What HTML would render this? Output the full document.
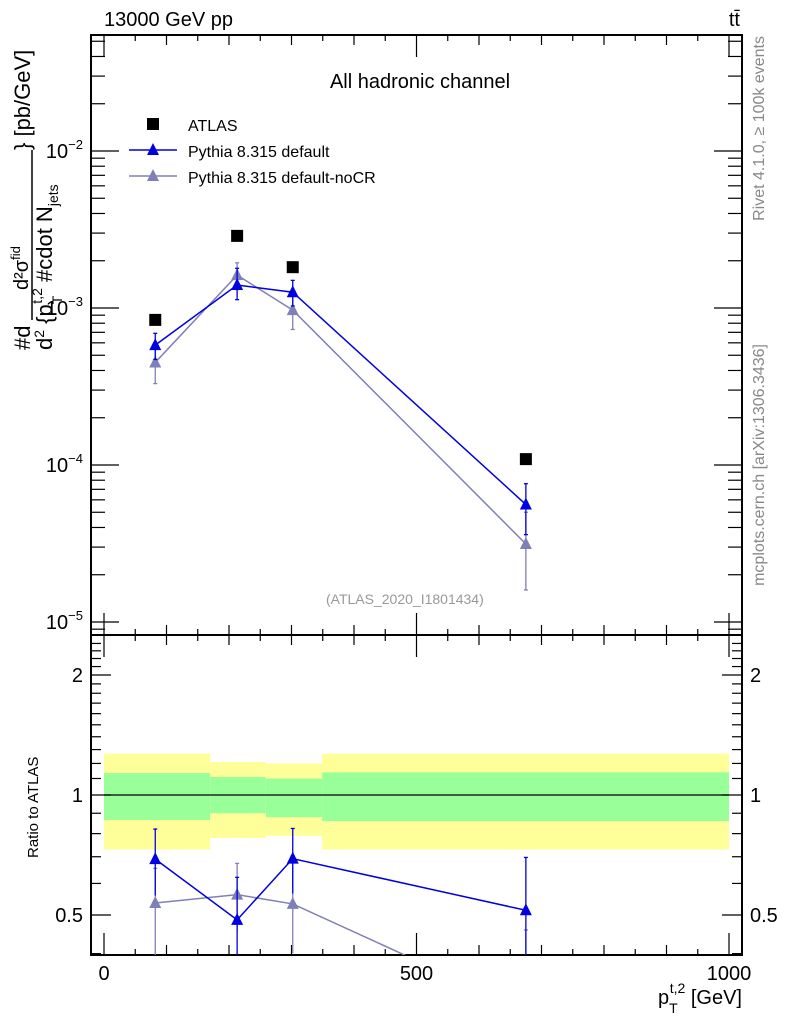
<!DOCTYPE html>
<html><head><meta charset="utf-8"><style>
html,body{margin:0;padding:0;background:#fff;overflow:hidden;width:786px;height:1024px;}
svg{display:block;font-family:"Liberation Sans",Arial,sans-serif;}
</style></head><body>
<svg id="c" width="786" height="1024" viewBox="0 0 786 1024" xmlns="http://www.w3.org/2000/svg">
<text x="104" y="26" font-size="20">13000 GeV pp</text>
<text x="740" y="26" font-size="20" text-anchor="end">tt̄</text>
<text x="420" y="88" font-size="20" text-anchor="middle">All hadronic channel</text>
<text x="326" y="604" font-size="14" fill="#999">(ATLAS_2020_I1801434)</text>
<text transform="translate(764,36) rotate(-90)" font-size="16" fill="#888" text-anchor="end">Rivet 4.1.0, ≥ 100k events</text>
<text transform="translate(764,344) rotate(-90)" font-size="16" fill="#888" text-anchor="end">mcplots.cern.ch [arXiv:1306.3436]</text>
<g font-size="22">
<text transform="translate(30,350) rotate(-90)">#d</text>
<text transform="translate(28,290) rotate(-90)" font-size="20">d²σ<tspan dy="-8" font-size="13">fid</tspan></text>
<text transform="translate(52,350) rotate(-90)">d<tspan dy="-8" font-size="14">2</tspan><tspan dy="8"> {p</tspan><tspan dy="10" font-size="14">T</tspan><tspan dx="-8" dy="-20" font-size="14">t,2</tspan><tspan dy="10"> #cdot N</tspan><tspan dy="6" font-size="14">jets</tspan></text>
<text transform="translate(30,150) rotate(-90)">} [pb/GeV]</text>
<line x1="32" y1="150" x2="32" y2="320" stroke="#000" stroke-width="1.5"/>
</g>
<text transform="translate(38,858) rotate(-90)" font-size="15">Ratio to ATLAS</text>
<text x="742" y="1004" font-size="20" text-anchor="end">p<tspan dy="9" font-size="14">T</tspan><tspan dx="-8" dy="-20" font-size="14">t,2</tspan><tspan dy="11"> [GeV]</tspan></text>
</svg>
<script>
const binEdges=[0,170,259,349,1000];
const xPoints=[82,213,302,675];
const atlas=[8.4e-4,2.88e-3,1.82e-3,1.09e-4];
const defVals=[5.8e-4,1.40e-3,1.26e-3,5.6e-5];
const defUp=[6.9e-4,1.79e-3,1.50e-3,7.6e-5];
const defDn=[4.7e-4,1.13e-3,1.03e-3,3.6e-5];
const nocrVals=[4.5e-4,1.62e-3,9.7e-4,3.14e-5];
const nocrUp=[5.5e-4,1.94e-3,1.28e-3,5.0e-5];
const nocrDn=[3.3e-4,1.31e-3,7.3e-4,1.6e-5];
const greenUp=[1.135,1.11,1.10,1.14];
const greenDn=[0.866,0.90,0.88,0.86];
const yellowUp=[1.27,1.21,1.20,1.27];
const yellowDn=[0.73,0.78,0.79,0.73];
const ratioTicks=[0.5,1,2];
const xTicks=[0,500,1000];

const NS="http://www.w3.org/2000/svg";
const svg=document.getElementById('c');
const L=91,R=742,T=35,M=635,B=955;
function X(v){return 104+0.625*v;}
function Y(v){return 151-157*(Math.log10(v)+2);}
function RY(v){return 795-398.6*Math.log10(v);}
function mk(tag,a,parent){const e=document.createElementNS(NS,tag);for(const k in a)e.setAttribute(k,a[k]);(parent||svg).appendChild(e);return e;}

const bands=mk('g',{});


for(let i=0;i<4;i++){
 const x1=X(binEdges[i]),x2=X(binEdges[i+1]);
 const y=mk('rect',{x:x1,y:RY(yellowUp[i]),width:x2-x1,height:RY(yellowDn[i])-RY(yellowUp[i]),fill:'#ffff99'},bands);
 
 
 const g=mk('rect',{x:x1,y:RY(greenUp[i]),width:x2-x1,height:RY(greenDn[i])-RY(greenUp[i]),fill:'#99ff99'},bands);
 
 
}
mk('line',{x1:X(0),x2:X(1000),y1:RY(1),y2:RY(1),stroke:'#000','stroke-width':1.2});

const fr=mk('g',{fill:'none',stroke:'#000','stroke-width':2});


mk('rect',{x:L,y:T,width:R-L,height:M-T},fr);
mk('rect',{x:L,y:M,width:R-L,height:B-M},fr);

const tk=mk('g',{stroke:'#000','stroke-width':1.2});
for(let v=0;v<=1000;v+=100){
 const big=v%500===0, len=big?22:10;
 for(const [y0,d] of [[T,1],[M,-1],[M,1],[B,-1]]){
  mk('line',{x1:X(v),x2:X(v),y1:y0,y2:y0+d*len},tk);
 }
}
for(let v=50;v<1000;v+=100){for(const [y0,d] of [[T,1],[M,-1],[M,1],[B,-1]])mk('line',{x1:X(v),x2:X(v),y1:y0,y2:y0+d*6},tk);}
xTicks.forEach(v=>{const t=mk('text',{x:X(v),y:980,'font-size':20,'text-anchor':'middle'});t.textContent=v;

});
for(let e=-6;e<=-1;e++)for(let m=1;m<10;m++){
 const v=m*Math.pow(10,e),y=Y(v); if(y<T||y>M)continue;
 const len=m===1?28:14;
 mk('line',{x1:L,x2:L+len,y1:y,y2:y},tk);mk('line',{x1:R,x2:R-len,y1:y,y2:y},tk);
}
[-2,-3,-4,-5].forEach(e=>{const t=mk('text',{x:L-8,y:Y(Math.pow(10,e))+7,'font-size':20,'text-anchor':'end'});
t.innerHTML='10<tspan dy="-9" font-size="13">−'+(-e)+'</tspan>';

});
for(let v=0.4;v<=2.5;v+=0.1){const y=RY(v);if(y<M||y>B)continue;
 const big=[0.5,1,2].some(m=>Math.abs(m-v)<1e-6);const len=big?20:10;
 mk('line',{x1:L,x2:L+len,y1:y,y2:y},tk);mk('line',{x1:R,x2:R-len,y1:y,y2:y},tk);}
ratioTicks.forEach(v=>{
 const t=mk('text',{x:L-8,y:RY(v)+7,'font-size':20,'text-anchor':'end'});t.textContent=v;
 
 
 const t2=mk('text',{x:R+8,y:RY(v)+7,'font-size':20});t2.textContent=v;
 
 });

function tri(x,y,col,p){return mk('path',{d:`M${x} ${y-7}L${x+6} ${y+5}L${x-6} ${y+5}Z`,fill:col},p);}
function series(vals,up,dn,col,name){
 const g=mk('g',{});
 
 
 mk('polyline',{points:vals.map((v,i)=>X(xPoints[i])+','+Y(v)).join(' '),fill:'none',stroke:col,'stroke-width':1.5},g);
 vals.forEach((v,i)=>{const x=X(xPoints[i]);
  mk('line',{x1:x,x2:x,y1:Y(up[i]),y2:Y(dn[i]),stroke:col,'stroke-width':1.3},g);
  mk('line',{x1:x-2,x2:x+2,y1:Y(up[i]),y2:Y(up[i]),stroke:col,'stroke-width':1.3},g);
  mk('line',{x1:x-2,x2:x+2,y1:Y(dn[i]),y2:Y(dn[i]),stroke:col,'stroke-width':1.3},g);
  tri(x,Y(v),col,g);});
 const rg=mk('g',{'clip-path':'url(#clipR)'});
 
 
 mk('polyline',{points:vals.map((v,i)=>X(xPoints[i])+','+RY(v/atlas[i])).join(' '),fill:'none',stroke:col,'stroke-width':1.5},rg);
 vals.forEach((v,i)=>{const x=X(xPoints[i]);
  mk('line',{x1:x,x2:x,y1:RY(up[i]/atlas[i]),y2:RY(dn[i]/atlas[i]),stroke:col,'stroke-width':1.3},rg);
  mk('line',{x1:x-2,x2:x+2,y1:RY(up[i]/atlas[i]),y2:RY(up[i]/atlas[i]),stroke:col,'stroke-width':1.3},rg);
  tri(x,RY(v/atlas[i]),col,rg);});
}
const defs=mk('defs',{});
const cp=mk('clipPath',{id:'clipR'},defs);mk('rect',{x:L,y:M,width:R-L,height:B-M},cp);
series(nocrVals,nocrUp,nocrDn,'#8080b8','pythia-nocr-series');
series(defVals,defUp,defDn,'#0000e0','pythia-default-series');
const ag=mk('g',{});


atlas.forEach((v,i)=>{mk('rect',{x:X(xPoints[i])-6,y:Y(v)-6,width:12,height:12,fill:'#000'},ag);});

const lg=mk('g',{});


mk('rect',{x:147,y:118,width:12,height:12,fill:'#000'},lg);
let t=mk('text',{x:188,y:131,'font-size':16},lg);t.textContent='ATLAS';
mk('line',{x1:129,x2:177,y1:150,y2:150,stroke:'#0000e0','stroke-width':1.5},lg);tri(153,150,'#0000e0',lg);
t=mk('text',{x:188,y:157,'font-size':16},lg);t.textContent='Pythia 8.315 default';
mk('line',{x1:129,x2:177,y1:176,y2:176,stroke:'#8080b8','stroke-width':1.5},lg);tri(153,176,'#8080b8',lg);
t=mk('text',{x:188,y:183,'font-size':16},lg);t.textContent='Pythia 8.315 default-noCR';
</script>
</body></html>
